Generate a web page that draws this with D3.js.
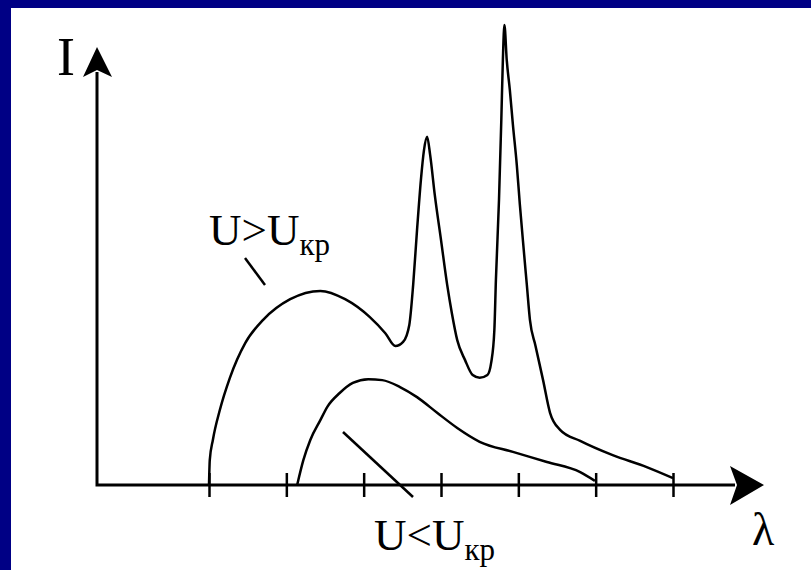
<!DOCTYPE html>
<html>
<head>
<meta charset="utf-8">
<script src="https://cdn.jsdelivr.net/npm/d3@7"></script>
<style>
	body { margin: 0; background: #000085; }
	svg { display: block; }
	.lbl { font-family: "Liberation Serif", "Times New Roman", serif; fill: #000; }
</style>
</head>
<body>
<script>
"use strict";

// tick positions along the wavelength axis (unlabelled)
var lambdaTicks = [1, 2, 3, 4, 5, 6, 7];

// spectrum for U > Ukr : continuous hump plus two characteristic lines
var highLambda = [1.00, 1.01, 1.05, 1.14, 1.27, 1.47, 1.70, 2.05, 2.44, 2.76, 3.08, 3.28, 3.41, 3.51,
	3.59, 3.64, 3.69, 3.74, 3.78, 3.82, 3.86, 3.92, 4.00, 4.08, 4.14, 4.21, 4.31, 4.41, 4.50, 4.60,
	4.65, 4.69, 4.71, 4.75, 4.78, 4.80, 4.82, 4.85, 4.89, 4.93, 4.98, 5.02, 5.07, 5.11, 5.15, 5.22,
	5.32, 5.41, 5.54, 5.80, 6.22, 6.66, 7.00];
var highI = [0, 5.4, 9.8, 16.3, 23.3, 30.9, 35.9, 40.4, 42.2, 40.4, 36.5, 33.0, 30.2, 31.1,
	34.8, 43.5, 55.4, 66.3, 72.8, 75.7, 71.7, 63.0, 53.3, 43.5, 37.4, 31.5, 27.2, 23.9, 23.3, 23.9,
	26.7, 33.7, 44.6, 62.0, 79.4, 92.4, 100, 92.4, 85.9, 78.3, 69.6, 60.9, 51.1, 43.5, 35.9, 30.4,
	22.8, 15.7, 12.0, 9.6, 6.5, 3.9, 1.5];

// spectrum for U < Ukr : continuous hump only
var lowLambda = [2.14, 2.22, 2.31, 2.44, 2.53, 2.69, 2.86, 3.06, 3.24, 3.47, 3.69, 3.95, 4.21,
	4.50, 4.93, 5.37, 5.80, 5.99];
var lowI = [0, 5.4, 9.8, 14.1, 17.0, 20.0, 22.2, 23.0, 22.8, 21.3, 19.1, 15.7, 12.4,
	9.4, 7.2, 5.0, 2.8, 0.9];

var W = 811, H = 570;
var x0 = 97, y0 = 485;

var svg = d3.select('body').append('svg').attr('width', W).attr('height', H);

// white slide panel (navy frame shows only on top and left)
svg.append('rect').attr('x', 11).attr('y', 8).attr('width', W - 11).attr('height', H - 8).
	attr('fill', '#fff');

var x = d3.scaleLinear().domain([1, 7]).range([209, 673]);
var y = d3.scaleLinear().domain([0, 100]).range([y0, 25]);

// axes with arrowheads
svg.append('path').attr('d', 'M' + x0 + ',72 V' + y0 + ' H735').
	attr('fill', 'none').attr('stroke', '#000').attr('stroke-width', 3);
svg.append('path').attr('d', 'M97,47 L112,77 L97,70 L83,77 Z').attr('fill', '#000');
svg.append('path').attr('d', 'M764,485 L730,505 L737,485 L730,466 Z').attr('fill', '#000');

// ticks crossing the lambda axis
var ax = svg.append('g').attr('transform', 'translate(0,' + (y0 - 12) + ')').
	call(d3.axisBottom(x).tickValues(lambdaTicks).tickSize(24).tickFormat(''));
ax.select('.domain').remove();
ax.selectAll('line').attr('stroke', '#000').attr('stroke-width', 2.5);

var line = d3.line().x(function(d) { return x(d[0]); }).y(function(d) { return y(d[1]); }).
	curve(d3.curveMonotoneX);

svg.append('path').datum(d3.zip(highLambda, highI)).attr('d', line).
	attr('fill', 'none').attr('stroke', '#000').attr('stroke-width', 2.5);
svg.append('path').datum(d3.zip(lowLambda, lowI)).attr('d', line).
	attr('fill', 'none').attr('stroke', '#000').attr('stroke-width', 2.5);

// leader lines to the labels
svg.append('line').attr('x1', 245).attr('y1', 258).attr('x2', 265).attr('y2', 285).
	attr('stroke', '#000').attr('stroke-width', 2.5);
svg.append('line').attr('x1', 343).attr('y1', 432).attr('x2', 413).attr('y2', 497).
	attr('stroke', '#000').attr('stroke-width', 2.5);

// labels
svg.append('text').attr('class', 'lbl').attr('x', 57).attr('y', 75).
	style('font-size', '54px').text('I');
svg.append('text').attr('class', 'lbl').attr('x', 752).attr('y', 545).
	style('font-size', '46px').text('λ');

function ukrLabel(tx, ty, sign) {
	var t = svg.append('text').attr('class', 'lbl').attr('x', tx).attr('y', ty).
		style('font-size', '45px');
	t.append('tspan').text('U' + sign + 'U');
	t.append('tspan').attr('dy', 10).style('font-size', '31px').text('кр');
}
ukrLabel(209, 245, '>');
ukrLabel(374, 550, '<');
</script>
</body>
</html>
